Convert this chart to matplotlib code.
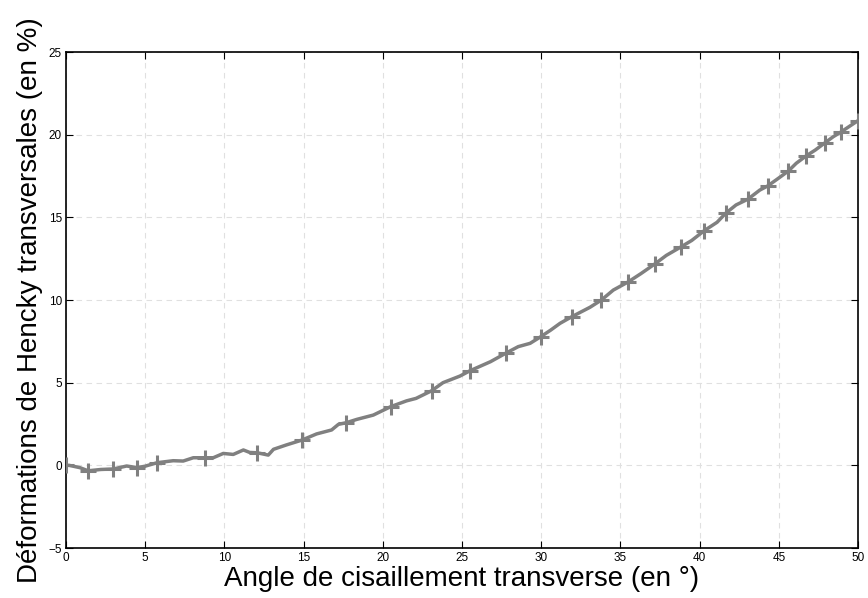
import matplotlib
matplotlib.use("Agg")
import matplotlib.pyplot as plt

# angle de cisaillement (deg) et deformation de Hencky (%)
angle = [0.0, 0.2, 0.88, 1.4, 2.2, 2.99, 3.83, 4.5, 5.0, 5.76, 6.77, 7.4, 8.04, 8.8,
         9.3, 9.93, 10.56, 11.2, 11.6, 12.08, 12.77, 13.1, 13.9, 14.9, 15.82, 16.77,
         17.2, 17.7, 18.36, 19.4, 20.5, 21.5, 22.1, 23.08, 23.8, 24.87, 25.5, 26.8,
         27.76, 28.55, 29.3, 29.97, 30.6, 31.19, 31.95, 33.08, 33.8, 34.55, 35.5,
         36.3, 37.2, 37.9, 38.8, 39.5, 40.3, 41.1, 41.65, 42.3, 43.05, 43.8, 44.3,
         44.97, 45.6, 46.1, 46.7, 47.3, 47.9, 48.44, 48.9, 50.0]
hencky = [0.0, 0.0, -0.14, -0.33, -0.25, -0.22, -0.04, -0.14, -0.05, 0.16, 0.28, 0.26,
          0.46, 0.46, 0.46, 0.72, 0.66, 0.93, 0.78, 0.76, 0.62, 0.97, 1.23, 1.53, 1.9,
          2.14, 2.48, 2.58, 2.78, 3.04, 3.55, 3.9, 4.05, 4.51, 5.0, 5.4, 5.72, 6.27,
          6.78, 7.18, 7.38, 7.78, 8.18, 8.59, 9.0, 9.56, 10.0, 10.6, 11.1, 11.6, 12.2,
          12.7, 13.2, 13.6, 14.2, 14.7, 15.25, 15.75, 16.1, 16.65, 16.9, 17.36, 17.8,
          18.27, 18.7, 19.07, 19.5, 19.88, 20.15, 20.85]
# indices des points marques "+"
marques = [0, 3, 5, 7, 9, 13, 19, 23, 27, 30, 33, 36, 38, 41, 44, 46, 48, 50, 52,
           54, 56, 58, 60, 62, 64, 66, 68, 69]

xticks = list(range(0, 51, 5))
yticks = list(range(-5, 26, 5))

plt.rcParams["font.family"] = ["Liberation Sans", "DejaVu Sans"]

fig = plt.figure(figsize=(8.68, 5.98), dpi=100)
ax = fig.add_axes([0.076, 0.0836, 0.9125, 0.8294])

ax.plot(angle, hencky, color="#808080", lw=2.5, marker="+", ms=11, mew=2.2,
        markevery=marques, zorder=3)

ax.set_xlim(0, 50)
ax.set_ylim(-5, 25)
ax.set_xticks(xticks)
ax.set_yticks(yticks)
ax.tick_params(direction="in", top=True, right=True, labelsize=8.5, length=5, pad=3)
ax.grid(True, ls=(0, (5, 4)), color="#e0e0e0", lw=0.8)
for s in ax.spines.values():
    s.set_linewidth(1.2)

ax.set_xlabel("Angle de cisaillement transverse (en °)", fontsize=20, labelpad=1)
ax.set_ylabel("Déformations de Hencky transversales (en %)", fontsize=20, labelpad=4)

fig.savefig("out.png", dpi=100)
